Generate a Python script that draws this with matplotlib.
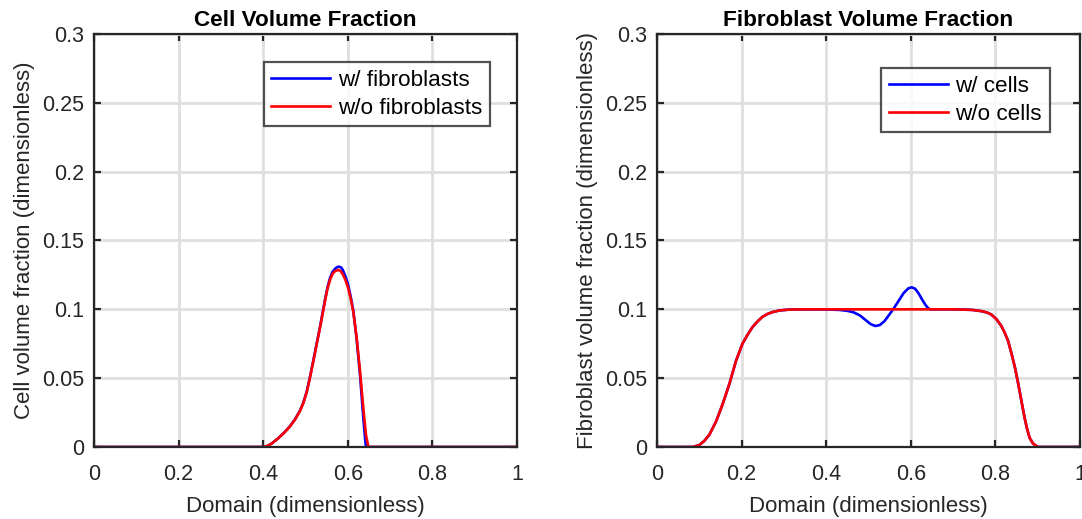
import matplotlib
matplotlib.use("Agg")
import matplotlib.pyplot as plt

plt.rcParams['font.family'] = ['Liberation Sans', 'DejaVu Sans']

# ---- Data: Cell volume fraction ----
cell_x_wf = [0.0, 0.40, 0.41, 0.42, 0.435, 0.45, 0.4634, 0.475, 0.487, 0.495, 0.503, 0.51,
             0.518, 0.526, 0.534, 0.540, 0.546, 0.552, 0.558, 0.564, 0.570, 0.575, 0.580,
             0.585, 0.589, 0.595, 0.601, 0.607, 0.613, 0.621, 0.629, 0.6367, 0.6415, 0.643, 1.0]
cell_y_wf = [0.0, 0.0, 0.0008, 0.0025, 0.0062, 0.0106, 0.0152, 0.0200, 0.0265, 0.0323, 0.0404, 0.0500,
             0.0620, 0.0745, 0.0868, 0.0967, 0.1068, 0.1160, 0.1228, 0.1272, 0.1295, 0.1307, 0.1310,
             0.1302, 0.1280, 0.1235, 0.1175, 0.1090, 0.0990, 0.0780, 0.0520, 0.0210, 0.0040, 0.0, 0.0]
cell_x_wo = [0.0, 0.40, 0.41, 0.42, 0.435, 0.45, 0.4634, 0.475, 0.487, 0.495, 0.503, 0.51,
             0.518, 0.526, 0.534, 0.540, 0.546, 0.552, 0.558, 0.564, 0.570, 0.5776, 0.583,
             0.589, 0.595, 0.601, 0.607, 0.613, 0.621, 0.629, 0.6367, 0.643, 0.648, 0.651, 1.0]
cell_y_wo = [0.0, 0.0, 0.0008, 0.0025, 0.0062, 0.0105, 0.0150, 0.0198, 0.0262, 0.0320, 0.0400, 0.0495,
             0.0615, 0.0740, 0.0862, 0.0960, 0.1060, 0.1150, 0.1215, 0.1258, 0.1278, 0.1286, 0.1278,
             0.1250, 0.1208, 0.1153, 0.1075, 0.0983, 0.0790, 0.0547, 0.0280, 0.0087, 0.0010, 0.0, 0.0]

# ---- Data: Fibroblast volume fraction ----
fib_x_wo = [0.0, 0.085, 0.1005, 0.112, 0.124, 0.140, 0.155, 0.171, 0.187, 0.202, 0.214, 0.226,
            0.238, 0.249, 0.261, 0.273, 0.29, 0.312, 0.35, 0.40, 0.50, 0.60, 0.70, 0.745,
            0.767, 0.78, 0.79, 0.802, 0.814, 0.822, 0.83, 0.838, 0.846, 0.852, 0.857, 0.863,
            0.869, 0.875, 0.881, 0.889, 0.896, 0.90, 1.0]
fib_y_wo = [0.0, 0.0, 0.0015, 0.0045, 0.009, 0.0188, 0.031, 0.0457, 0.0628, 0.075, 0.0815, 0.0872,
            0.0913, 0.0945, 0.0966, 0.098, 0.0992, 0.0998, 0.1, 0.1, 0.1, 0.1, 0.1, 0.0996,
            0.0987, 0.0977, 0.0963, 0.0930, 0.088, 0.083, 0.077, 0.068, 0.058, 0.049, 0.041, 0.031,
            0.0212, 0.013, 0.0066, 0.0025, 0.001, 0.0, 0.0]
fib_x_wc = [0.0, 0.085, 0.1005, 0.112, 0.124, 0.140, 0.155, 0.171, 0.187, 0.202, 0.214, 0.226,
            0.238, 0.249, 0.261, 0.273, 0.29, 0.312, 0.35, 0.40, 0.43, 0.45, 0.465, 0.48,
            0.492, 0.505, 0.516, 0.527, 0.538, 0.55, 0.56, 0.572, 0.583, 0.594, 0.602, 0.61,
            0.618, 0.626, 0.634, 0.641, 0.646, 0.70, 0.745, 0.767, 0.78, 0.79, 0.802, 0.814,
            0.822, 0.83, 0.838, 0.846, 0.852, 0.857, 0.863, 0.869, 0.875, 0.881, 0.889,
            0.896, 0.90, 1.0]
fib_y_wc = [0.0, 0.0, 0.0015, 0.0045, 0.009, 0.0188, 0.031, 0.0457, 0.0628, 0.075, 0.0815, 0.0872,
            0.0913, 0.0945, 0.0966, 0.098, 0.0992, 0.0998, 0.1, 0.0999, 0.0996, 0.0989, 0.0978, 0.0955,
            0.0925, 0.0893, 0.0879, 0.0886, 0.0915, 0.0965, 0.1008, 0.1065, 0.1118, 0.1152, 0.1160, 0.1150,
            0.1118, 0.1075, 0.1035, 0.1008, 0.1, 0.1, 0.0996, 0.0987, 0.0977, 0.0963, 0.0930, 0.088,
            0.083, 0.077, 0.068, 0.058, 0.049, 0.041, 0.031, 0.0212, 0.013, 0.0066, 0.0025,
            0.001, 0.0, 0.0]

xticks = [0, 0.2, 0.4, 0.6, 0.8, 1]
yticks = [0, 0.05, 0.1, 0.15, 0.2, 0.25, 0.3]
xtick_labels = ['0', '0.2', '0.4', '0.6', '0.8', '1']
ytick_labels = ['0', '0.05', '0.1', '0.15', '0.2', '0.25', '0.3']

fig = plt.figure(figsize=(10.82, 5.19), dpi=100)
ax1 = fig.add_axes([94/1082, 72/519, 423/1082, 413/519])
ax2 = fig.add_axes([657/1082, 72/519, 423/1082, 413/519])

dark = '#262626'

def style(ax, title, ylabel, leg_labels, leg_anchor):
    ax.set_xlim(0, 1)
    ax.set_ylim(0, 0.3)
    ax.set_xticks(xticks)
    ax.set_xticklabels(xtick_labels)
    ax.set_yticks(yticks)
    ax.set_yticklabels(ytick_labels)
    ax.grid(True, color='#dfdfdf', linewidth=2.0)
    ax.set_axisbelow(True)
    for s in ax.spines.values():
        s.set_color(dark)
        s.set_linewidth(1.6)
    ax.tick_params(direction='in', length=5, width=1.6, color=dark, labelcolor=dark,
                   labelsize=15.5, top=True, right=True)
    ax.tick_params(axis='x', pad=12)
    ax.tick_params(axis='y', pad=7)
    ax.set_title(title, fontsize=16.2, fontweight='bold', color='black', pad=5.5)
    ax.set_xlabel('Domain (dimensionless)', fontsize=16, color=dark, labelpad=8)
    ax.set_ylabel(ylabel, fontsize=16, color=dark, labelpad=5)
    leg = ax.legend(leg_labels, loc='upper right', bbox_to_anchor=leg_anchor,
                    fontsize=16.2, frameon=True, fancybox=False, handlelength=2.6,
                    handletextpad=0.35, borderpad=0.35, labelspacing=0.3,
                    borderaxespad=0, handleheight=0.7)
    leg.get_frame().set_edgecolor(dark)
    leg.get_frame().set_linewidth(1.6)

ax1.plot(cell_x_wf, cell_y_wf, color='#0000ff', linewidth=1.9)
ax1.plot(cell_x_wo, cell_y_wo, color='#ff0000', linewidth=1.9)
style(ax1, 'Cell Volume Fraction', 'Cell volume fraction (dimensionless)',
      ['w/ fibroblasts', 'w/o fibroblasts'], ((490-94)/423, (447-62)/413))

ax2.plot(fib_x_wc, fib_y_wc, color='#0000ff', linewidth=1.9)
ax2.plot(fib_x_wo, fib_y_wo, color='#ff0000', linewidth=1.9)
style(ax2, 'Fibroblast Volume Fraction', 'Fibroblast volume fraction (dimensionless)',
      ['w/ cells', 'w/o cells'], ((1050-657)/423, (447-68)/413))

fig.savefig('out.png', dpi=100)
